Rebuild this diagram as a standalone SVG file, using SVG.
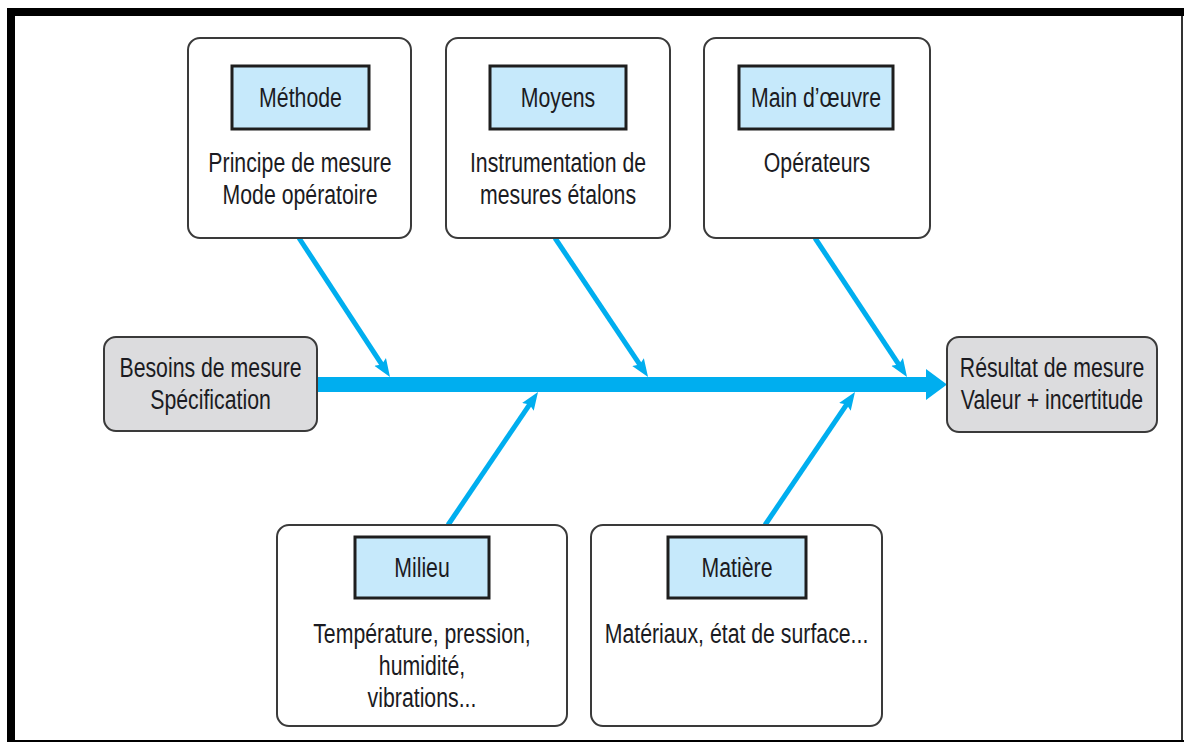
<svg xmlns="http://www.w3.org/2000/svg" width="1184" height="742" viewBox="0 0 1184 742">
  <style>
    .frame { fill: #000000; }
    .card { fill: #ffffff; stroke: #3a3a3a; stroke-width: 2; }
    .end { fill: #dcdcde; stroke: #3a3a3a; stroke-width: 2; }
    .head { fill: #c6e9fb; stroke: #1e1e1e; stroke-width: 3; }
    .t { font-family: "Liberation Sans", Arial, sans-serif; font-size: 28px; fill: #1b1b22; text-anchor: middle; }
    .bone { stroke: #00aeef; stroke-width: 5; fill: none; marker-end: url(#tip); }
    .spine { fill: #00aeef; }
  </style>
  <defs>
    <marker id="tip" markerUnits="userSpaceOnUse" markerWidth="20" markerHeight="16" refX="8" refY="0" viewBox="0 -8 20 16" orient="auto">
      <path d="M0,-7 L18,0 L0,7 L3,0 z" fill="#00aeef"/>
    </marker>
  </defs>

  <rect width="1184" height="742" fill="#ffffff"/>

  <!-- page frame -->
  <g id="frame">
    <rect class="frame" x="7" y="8" width="1177" height="8"/>
    <rect class="frame" x="7" y="8" width="8" height="734"/>
    <rect x="1181" y="16" width="2" height="726" fill="#333333"/>
    <rect class="frame" x="7" y="740" width="1177" height="2"/>
  </g>

  <!-- connectors -->
  <g id="connectors">
    <rect class="spine" x="317" y="377" width="611" height="15"/>
    <polygon class="spine" points="926,369 947,384.5 926,400"/>
    <line class="bone" x1="299" y1="238" x2="384.5" y2="368.6"/>
    <line class="bone" x1="555" y1="238" x2="642.5" y2="368.7"/>
    <line class="bone" x1="815" y1="238" x2="901.5" y2="368.6"/>
    <line class="bone" x1="448" y1="525" x2="532.4" y2="400.3"/>
    <line class="bone" x1="765" y1="525" x2="849.4" y2="400.3"/>
  </g>

  <g id="methode">
    <rect class="card" x="188" y="38" width="223" height="200" rx="12"/>
    <rect class="head" x="232" y="66" width="137" height="63"/>
    <text class="t" transform="translate(300.5,107) scale(0.76,1)">Méthode</text>
    <text class="t" transform="translate(300,172) scale(0.76,1)">Principe de mesure</text>
    <text class="t" transform="translate(300,204) scale(0.76,1)">Mode opératoire</text>
  </g>

  <g id="moyens">
    <rect class="card" x="446" y="38" width="224" height="200" rx="12"/>
    <rect class="head" x="490" y="66" width="136" height="63"/>
    <text class="t" transform="translate(558,107) scale(0.76,1)">Moyens</text>
    <text class="t" transform="translate(558,172) scale(0.76,1)">Instrumentation de</text>
    <text class="t" transform="translate(558,204) scale(0.76,1)">mesures étalons</text>
  </g>

  <g id="main-oeuvre">
    <rect class="card" x="704" y="38" width="226" height="200" rx="12"/>
    <rect class="head" x="739" y="66" width="154" height="63"/>
    <text class="t" transform="translate(816,107) scale(0.76,1)">Main d’œuvre</text>
    <text class="t" transform="translate(817,172) scale(0.76,1)">Opérateurs</text>
  </g>

  <g id="besoins">
    <rect class="end" x="104" y="337" width="213" height="94" rx="12"/>
    <text class="t" transform="translate(210.5,377) scale(0.76,1)">Besoins de mesure</text>
    <text class="t" transform="translate(210.5,409) scale(0.76,1)">Spécification</text>
  </g>

  <g id="resultat">
    <rect class="end" x="947" y="337" width="210" height="95" rx="12"/>
    <text class="t" transform="translate(1052,377) scale(0.76,1)">Résultat de mesure</text>
    <text class="t" transform="translate(1052,409) scale(0.76,1)">Valeur + incertitude</text>
  </g>

  <g id="milieu">
    <rect class="card" x="277" y="525" width="290" height="201" rx="12"/>
    <rect class="head" x="355" y="537" width="134" height="61"/>
    <text class="t" transform="translate(422,577) scale(0.76,1)">Milieu</text>
    <text class="t" transform="translate(422,643) scale(0.76,1)">Température, pression,</text>
    <text class="t" transform="translate(422,675) scale(0.76,1)">humidité,</text>
    <text class="t" transform="translate(422,707) scale(0.76,1)">vibrations...</text>
  </g>

  <g id="matiere">
    <rect class="card" x="591" y="525" width="291" height="201" rx="12"/>
    <rect class="head" x="668" y="537" width="138" height="61"/>
    <text class="t" transform="translate(737,577) scale(0.76,1)">Matière</text>
    <text class="t" transform="translate(736.5,643) scale(0.76,1)">Matériaux, état de surface...</text>
  </g>
</svg>
